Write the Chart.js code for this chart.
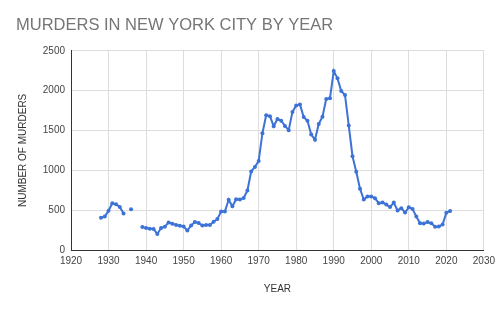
<!DOCTYPE html>
<html>
<head>
<meta charset="utf-8">
<script src="https://cdn.jsdelivr.net/npm/chart.js@4/dist/chart.umd.min.js"></script>
<style>
  html, body { margin: 0; padding: 0; background: #ffffff; }
  #wrap { width: 500px; height: 309px; position: relative; }
</style>
</head>
<body>
<div id="wrap"><canvas id="c" width="500" height="309"></canvas></div>
<script>
const years = [
  1928,1929,1930,1931,1932,1933,1934,1935,1936,1937,1938,1939,
  1940,1941,1942,1943,1944,1945,1946,1947,1948,1949,
  1950,1951,1952,1953,1954,1955,1956,1957,1958,1959,
  1960,1961,1962,1963,1964,1965,1966,1967,1968,1969,
  1970,1971,1972,1973,1974,1975,1976,1977,1978,1979,
  1980,1981,1982,1983,1984,1985,1986,1987,1988,1989,
  1990,1991,1992,1993,1994,1995,1996,1997,1998,1999,
  2000,2001,2002,2003,2004,2005,2006,2007,2008,2009,
  2010,2011,2012,2013,2014,2015,2016,2017,2018,2019,
  2020,2021
];
const murders = [
  404,419,494,587,573,539,458,null,510,null,null,290,
  275,268,265,200,275,292,346,330,315,305,
  294,244,309,350,340,306,315,314,354,390,
  482,483,631,548,637,634,654,746,986,1043,
  1117,1466,1691,1680,1554,1645,1622,1557,1504,1733,
  1814,1826,1668,1622,1450,1384,1582,1672,1896,1905,
  2245,2154,1995,1946,1561,1177,983,770,633,671,
  673,649,587,597,570,539,596,496,523,471,
  536,515,419,335,333,352,335,292,295,319,
  468,488
];
const xTicks = [1920,1930,1940,1950,1960,1970,1980,1990,2000,2010,2020,2030];
const yTicks = [0,500,1000,1500,2000,2500];

const points = years.map((yr, i) => ({ x: yr, y: murders[i] }));
const FONT = 'Liberation Sans, Arial, sans-serif';

new Chart(document.getElementById('c'), {
  type: 'line',
  data: {
    datasets: [{
      data: points,
      borderColor: '#3d73d6',
      backgroundColor: '#3d73d6',
      borderWidth: 2,
      pointRadius: 2,
      pointHoverRadius: 2,
      pointBorderWidth: 0,
      tension: 0,
      spanGaps: false
    }]
  },
  options: {
    responsive: false,
    animation: false,
    layout: { padding: { left: 16, right: 16, top: 0, bottom: 14 } },
    plugins: {
      legend: { display: false },
      tooltip: { enabled: false },
      title: {
        display: true,
        text: 'MURDERS IN NEW YORK CITY BY YEAR',
        align: 'start',
        color: '#757575',
        font: { family: FONT, size: 16.5, weight: 'normal' },
        padding: { top: 16, bottom: 15 }
      }
    },
    scales: {
      x: {
        type: 'linear',
        min: xTicks[0],
        max: xTicks[xTicks.length - 1],
        afterBuildTicks: (axis) => { axis.ticks = xTicks.map(v => ({ value: v })); },
        ticks: {
          color: '#444',
          font: { family: FONT, size: 10 },
          maxRotation: 0,
          padding: 5,
          callback: (v) => String(v)
        },
        grid: { color: '#dddddd', drawTicks: false },
        border: { color: '#333333', width: 1 },
        title: {
          display: true,
          text: 'YEAR',
          color: '#333',
          font: { family: FONT, size: 10 },
          padding: { top: 11, bottom: 0 }
        }
      },
      y: {
        min: 0,
        max: 2500,
        afterBuildTicks: (axis) => { axis.ticks = yTicks.map(v => ({ value: v })); },
        afterFit: (axis) => { axis.width = 55; },
        ticks: {
          color: '#444',
          font: { family: FONT, size: 10 },
          padding: 6,
          callback: (v) => String(v)
        },
        grid: { color: '#dddddd', drawTicks: false },
        border: { color: '#333333', width: 1 },
        title: {
          display: true,
          text: 'NUMBER OF MURDERS',
          color: '#333',
          font: { family: FONT, size: 10 },
          padding: { top: 1, bottom: 0 }
        }
      }
    }
  }
});
</script>
</body>
</html>
